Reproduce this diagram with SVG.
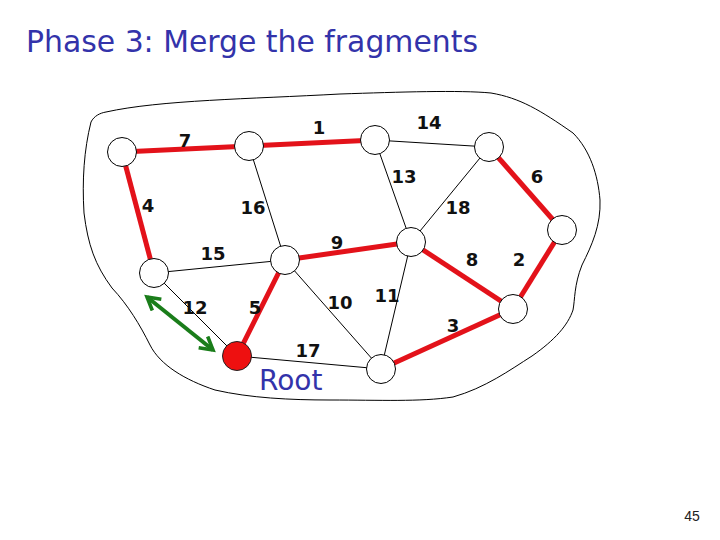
<svg xmlns="http://www.w3.org/2000/svg" width="720" height="540" viewBox="0 0 720 540">
<style>
.thin{stroke:#000;stroke-width:1;fill:none}
.red{stroke:#e3121a;stroke-width:5;fill:none}
.node{fill:#fff;stroke:#000;stroke-width:1}
.root{fill:#ee1010;stroke:#222;stroke-width:1}
.lbl{font-family:"DejaVu Sans",sans-serif;font-size:18px;font-weight:bold;fill:#111;text-anchor:middle}
.blue{font-family:"DejaVu Sans",sans-serif;fill:#3333aa}
</style>
<defs>
<marker id="ah" viewBox="0 0 10 10" refX="8" refY="5" markerWidth="4.5" markerHeight="4.5" orient="auto-start-reverse" markerUnits="strokeWidth">
<path d="M1,1 L8,5 L1,9" fill="none" stroke="#1a7d1a" stroke-width="2"/>
</marker>
</defs>
<rect width="720" height="540" fill="#fff"/>
<text class="blue" x="26" y="52" font-size="30" textLength="452" lengthAdjust="spacingAndGlyphs">Phase 3: Merge the fragments</text>
<path id="outline" class="thin" d="M106,112 C160,100 250,99 340,94 C400,92 460,90 491,93 C520,98 540,110 573,133 C590,150 598,175 600,200 C601,225 592,245 582,265 C574,285 575,300 573,310 C568,325 555,340 532,356 C510,370 485,388 453,397 C420,402 380,400 330,400 C290,400 250,398 215,390 C185,380 160,365 150,345 C140,325 128,305 112,288 C95,265 88,245 84,213 C82,180 84,150 91,122 C94,116 100,113 106,112 Z"/>
<g id="connectors">
<line class="red" x1="122" y1="152" x2="249" y2="146"/>
<line class="red" x1="249" y1="146" x2="375" y2="140"/>
<line class="thin" x1="375" y1="140" x2="489" y2="147"/>
<line class="thin" x1="375" y1="140" x2="411" y2="242"/>
<line class="thin" x1="489" y1="147" x2="411" y2="242"/>
<line class="red" x1="489" y1="147" x2="562" y2="230"/>
<line class="red" x1="562" y1="230" x2="513" y2="309"/>
<line class="red" x1="411" y1="242" x2="513" y2="309"/>
<line class="red" x1="122" y1="152" x2="154" y2="273"/>
<line class="thin" x1="249" y1="146" x2="285" y2="260"/>
<line class="thin" x1="154" y1="273" x2="285" y2="260"/>
<line class="red" x1="285" y1="260" x2="411" y2="242"/>
<line class="red" x1="285" y1="260" x2="237" y2="356"/>
<line class="thin" x1="285" y1="260" x2="381" y2="369"/>
<line class="thin" x1="411" y1="242" x2="381" y2="369"/>
<line class="red" x1="381" y1="369" x2="513" y2="309"/>
<line class="thin" x1="154" y1="273" x2="237" y2="356"/>
<line class="thin" x1="237" y1="356" x2="381" y2="369"/>
<line id="merge-arrow" x1="147" y1="297" x2="213" y2="350" stroke="#1a7d1a" stroke-width="4" marker-start="url(#ah)" marker-end="url(#ah)"/>
</g>
<g id="nA"><circle class="node" cx="122" cy="152" r="14.5"/></g>
<g id="nB"><circle class="node" cx="249" cy="146" r="14.5"/></g>
<g id="nC"><circle class="node" cx="375" cy="140" r="14.5"/></g>
<g id="nD"><circle class="node" cx="489" cy="147" r="14.5"/></g>
<g id="nE"><circle class="node" cx="562" cy="230" r="14.5"/></g>
<g id="nF"><circle class="node" cx="411" cy="242" r="14.5"/></g>
<g id="nG"><circle class="node" cx="285" cy="260" r="14.5"/></g>
<g id="nH"><circle class="node" cx="154" cy="273" r="14.5"/></g>
<g id="nRoot"><circle class="root" cx="237" cy="356" r="14.5"/></g>
<g id="nJ"><circle class="node" cx="381" cy="369" r="14.5"/></g>
<g id="nK"><circle class="node" cx="513" cy="309" r="14.5"/></g>
<g id="labels">
<text class="lbl" x="185" y="147">7</text>
<text class="lbl" x="319" y="134">1</text>
<text class="lbl" x="429" y="129">14</text>
<text class="lbl" x="404" y="183">13</text>
<text class="lbl" x="537" y="183">6</text>
<text class="lbl" x="148" y="212">4</text>
<text class="lbl" x="253" y="214">16</text>
<text class="lbl" x="458" y="214">18</text>
<text class="lbl" x="337" y="249">9</text>
<text class="lbl" x="213" y="260">15</text>
<text class="lbl" x="472" y="266">8</text>
<text class="lbl" x="519" y="266">2</text>
<text class="lbl" x="195" y="314">12</text>
<text class="lbl" x="255" y="314">5</text>
<text class="lbl" x="340" y="309">10</text>
<text class="lbl" x="387" y="302">11</text>
<text class="lbl" x="453" y="332">3</text>
<text class="lbl" x="308" y="357">17</text>
</g>
<text class="blue" x="259" y="390" font-size="28">Root</text>
<text x="692" y="521" font-family="Liberation Sans, sans-serif" font-size="14" fill="#222" text-anchor="middle">45</text>
</svg>
